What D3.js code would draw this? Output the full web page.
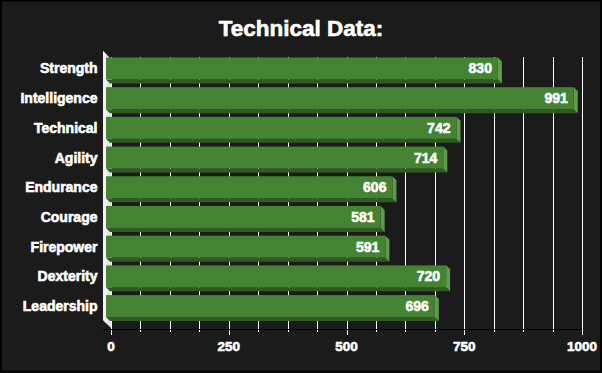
<!DOCTYPE html>
<html>
<head>
<meta charset="utf-8">
<script src="https://cdn.jsdelivr.net/npm/d3@7"></script>
<style>
  html, body { margin: 0; padding: 0; background: #1b1b1b; }
  svg { display: block; }
  text {
    font-family: "Liberation Sans", Arial, sans-serif;
    font-weight: bold;
    fill: #fff;
    stroke: #fff;
    stroke-width: 0.6px;
  }
</style>
</head>
<body>
<div id="chart"></div>
<script>
"use strict";

const categories = ["Strength", "Intelligence", "Technical", "Agility", "Endurance", "Courage", "Firepower", "Dexterity", "Leadership"];
const values = [830, 991, 742, 714, 606, 581, 591, 720, 696];
const gridValues = d3.range(0, 1000.1, 62.5);
const tickLabels = [0, 250, 500, 750, 1000];

const width = 602;
const height = 373;
const depth = 4; // décalage 3D entre face avant et arrière

const svg = d3
  .select("#chart")
  .append("svg")
  .attr("width", width)
  .attr("height", height);

svg
  .append("rect")
  .attr("x", 1)
  .attr("y", 0.5)
  .attr("width", width - 2)
  .attr("height", height - 2)
  .attr("fill", "#1b1b1b")
  .attr("stroke", "#000")
  .attr("stroke-width", 2);

// échelle du plan arrière (grille), la face avant est décalée de -depth
const x = d3.scaleLinear().domain([0, 1000]).range([111, 582]);
const y = d3
  .scaleBand()
  .domain(categories)
  .range([53.6, 53.6 + 9 * 29.7])
  .paddingInner(0.26)
  .paddingOuter(0.13);

const bw = y.bandwidth();

svg
  .append("text")
  .attr("x", width / 2)
  .attr("y", 36)
  .attr("text-anchor", "middle")
  .style("font-size", "22.5px")
  .text("Technical Data:");

// grille verticale
svg
  .append("g")
  .selectAll("line")
  .data(gridValues)
  .join("line")
  .attr("x1", (d) => Math.round(x(d)) + 0.5)
  .attr("x2", (d) => Math.round(x(d)) + 0.5)
  .attr("y1", 57)
  .attr("y2", (d) => (tickLabels.includes(d) ? 335 : 332))
  .attr("stroke", "#fff")
  .attr("stroke-width", 1);

// mur gauche
svg
  .append("polygon")
  .attr("points", "103,51 111,59 111,328 103,320")
  .attr("fill", "#e4e4e4");
svg
  .append("polygon")
  .attr("points", "103,51 107,55 107,324 103,320")
  .attr("fill", "#f2f2f2");

// ligne d'axe
svg
  .append("line")
  .attr("x1", 103)
  .attr("x2", 582)
  .attr("y1", 329.5)
  .attr("y2", 329.5)
  .attr("stroke", "#000");

const x0 = x(0) - depth - 1;

const bars = svg
  .append("g")
  .selectAll("g")
  .data(categories.map((c, i) => ({ cat: c, value: values[i] })))
  .join("g");

// face du dessous
bars
  .append("polygon")
  .attr("points", (d) => {
    const xr = x(d.value) - depth;
    const yb = y(d.cat) + bw;
    return [[x0, yb], [xr, yb], [xr + depth, yb + depth], [x0 + depth, yb + depth]].join(" ");
  })
  .attr("fill", "#2f5b23");

// face de droite
bars
  .append("polygon")
  .attr("points", (d) => {
    const xr = x(d.value) - depth;
    const yt = y(d.cat);
    const yb = yt + bw;
    return [[xr, yt], [xr + depth, yt + depth], [xr + depth, yb + depth], [xr, yb]].join(" ");
  })
  .attr("fill", "#5f9a4e");

// face avant
bars
  .append("rect")
  .attr("x", x0)
  .attr("y", (d) => y(d.cat))
  .attr("width", (d) => x(d.value) - depth - x0)
  .attr("height", bw)
  .attr("fill", "#438332");

// valeurs
bars
  .append("text")
  .attr("x", (d) => x(d.value) - depth - 6)
  .attr("y", (d) => y(d.cat) + bw / 2 + 5)
  .attr("text-anchor", "end")
  .style("font-size", "14px")
  .text((d) => d.value);

// catégories
svg
  .append("g")
  .selectAll("text")
  .data(categories)
  .join("text")
  .attr("x", 97.5)
  .attr("y", (d) => y(d) + bw / 2 + 5)
  .attr("text-anchor", "end")
  .style("font-size", "14px")
  .text((d) => d);

// étiquettes de l'axe x
svg
  .append("g")
  .selectAll("text")
  .data(tickLabels)
  .join("text")
  .attr("x", (d) => x(d))
  .attr("y", 351)
  .attr("text-anchor", "middle")
  .style("font-size", "13.5px")
  .text((d) => d);
</script>
</body>
</html>
